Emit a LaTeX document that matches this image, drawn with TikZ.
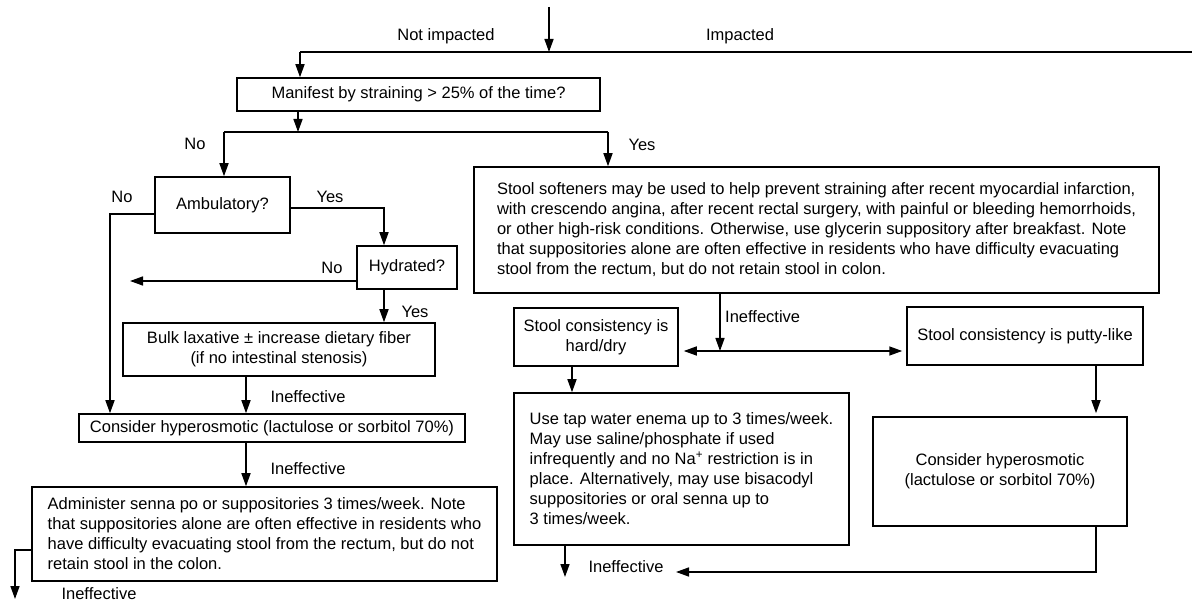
\documentclass[tikz,border=0pt]{standalone}
\usepackage{fontspec}
\setmainfont{Liberation Sans}
\usetikzlibrary{arrows.meta}
\newcommand{\myfs}{\fontsize{16.5}{20}\selectfont}
\begin{document}
\begin{tikzpicture}[x=1pt,y=-1pt,
  box/.style={draw, line width=1.5pt, inner sep=0pt, font=\myfs},
  lab/.style={font=\myfs, inner sep=0pt},
  ln/.style={line width=1.5pt},
  arr/.style={line width=1.5pt, -{Triangle[length=13pt,width=9pt]}}]
\fill[white] (0,0) rectangle (1192,609);
\useasboundingbox (0,0) rectangle (1192,609);

% boxes
\node[box, minimum width=363pt, minimum height=33pt] (man) at (418.5,94.5) {Manifest by straining > 25\% of the time?};
\node[box, minimum width=135pt, minimum height=56pt] (amb) at (222.5,205) {Ambulatory?};
\node[box, minimum width=100pt, minimum height=43pt] (hyd) at (407,267.5) {Hydrated?};
\node[box, minimum width=312pt, minimum height=53pt, align=center] (bulk) at (279,349.5) {Bulk laxative ± increase dietary fiber\\(if no intestinal stenosis)};
\node[box, minimum width=386pt, minimum height=28pt] (hyp1) at (272,428) {Consider hyperosmotic (lactulose or sorbitol 70\%)};
\node[box, minimum width=465pt, minimum height=94pt, align=left] (admin) at (264.5,534) {Administer senna po or suppositories 3 times/week. Note\\that suppositories alone are often effective in residents who\\have difficulty evacuating stool from the rectum, but do not\\retain stool in the colon.};
\node[box, minimum width=685pt, minimum height=126pt, align=left] (soft) at (816.5,230) {Stool softeners may be used to help prevent straining after recent myocardial infarction,\\with crescendo angina, after recent rectal surgery, with painful or bleeding hemorrhoids,\\or other high-risk conditions. Otherwise, use glycerin suppository after breakfast. Note\\that suppositories alone are often effective in residents who have difficulty evacuating\\stool from the rectum, but do not retain stool in colon.};
\node[box, minimum width=164pt, minimum height=58pt, align=center] (hard) at (596,337) {Stool consistency is\\hard/dry};
\node[box, minimum width=236pt, minimum height=58pt] (putty) at (1025,336) {Stool consistency is putty-like};
\node[box, minimum width=335pt, minimum height=152pt, align=left] (enema) at (681.5,469) {Use tap water enema up to 3 times/week.\\May use saline/phosphate if used\\infrequently and no Na\textsuperscript{+} restriction is in\\place. Alternatively, may use bisacodyl\\suppositories or oral senna up to\\3 times/week.};
\node[box, minimum width=254pt, minimum height=109pt, align=center] (hyp2) at (1000,471.5) {Consider hyperosmotic\\(lactulose or sorbitol 70\%)};

% labels
\node[lab] (l1) at (446,36) {Not impacted};
\node[lab] (l2) at (740,36) {Impacted};
\node[lab] (l3) at (195,144) {No};
\node[lab] (l4) at (642,145) {Yes};
\node[lab] (l5) at (122,197) {No};
\node[lab] (l6) at (330,197) {Yes};
\node[lab] (l7) at (332,268) {No};
\node[lab] (l8) at (415,312) {Yes};
\node[lab] (l9) at (308,397) {Ineffective};
\node[lab] (l10) at (308,469) {Ineffective};
\node[lab] (l11) at (99,594) {Ineffective};
\node[lab, anchor=west] (l12) at (725,317) {Ineffective};
\node[lab] (l13) at (626,567) {Ineffective};

% connectors
\coordinate (in) at (549,7);
\coordinate (j1) at (300,52);
\coordinate (tr) at (1192,52);
\draw[ln] (tr) -- (j1);
\draw[arr] (in) -- (in |- j1);
\draw[arr] (j1) -- (j1 |- man.north);

\coordinate (j2) at (298,132);
\coordinate (bl) at (224,132);
\coordinate (br) at (608,132);
\draw[arr] (j2 |- man.south) -- (j2);
\draw[ln] (bl) -- (br);
\draw[arr] (bl) -- (bl |- amb.north);
\draw[arr] (br) -- (br |- soft.north);

\coordinate (x110) at (110,214);
\draw[arr] (amb.west |- x110) -- (x110) -- (x110 |- hyp1.north);
\coordinate (x384) at (384,208);
\draw[arr] (amb.east |- x384) -- (x384) -- (x384 |- hyd.north);
\coordinate (hn) at (130,281);
\draw[arr] (hyd.west |- hn) -- (hn);
\draw[arr] (x384 |- hyd.south) -- (x384 |- bulk.north);
\coordinate (x246) at (246,0);
\draw[arr] (x246 |- bulk.south) -- (x246 |- hyp1.north);
\draw[arr] (x246 |- hyp1.south) -- (x246 |- admin.north);
\coordinate (a550) at (15,550);
\coordinate (ao) at (15,599);
\draw[arr] (admin.west |- a550) -- (a550) -- (ao);

\coordinate (j3) at (720,351);
\draw[arr] (j3 |- soft.south) -- (j3);
\draw[arr, shorten >=5pt] (j3) -- (hard.east |- j3);
\draw[arr, shorten >=4pt] (j3) -- (putty.west |- j3);
\coordinate (x572) at (572,0);
\draw[arr] (x572 |- hard.south) -- (x572 |- enema.north);
\coordinate (eo) at (565,577);
\draw[arr] (eo |- enema.south) -- (eo);
\coordinate (x1096) at (1096,572);
\draw[arr, shorten >=3pt] (x1096 |- putty.south) -- (x1096 |- hyp2.north);
\coordinate (bt) at (676,572);
\draw[arr] (x1096 |- hyp2.south) -- (x1096) -- (bt);
\end{tikzpicture}
\end{document}
